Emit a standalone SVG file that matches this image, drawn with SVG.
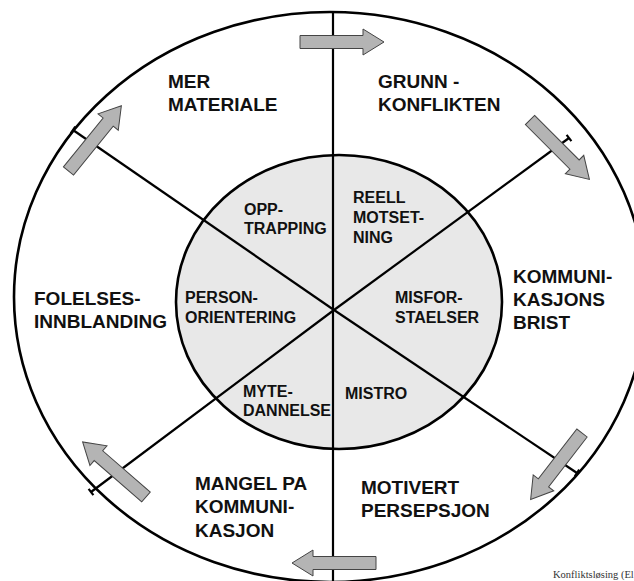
<svg xmlns="http://www.w3.org/2000/svg" width="634" height="581" viewBox="0 0 634 581">
<style>
.ring{fill:none;stroke:#000;stroke-width:2.6}
.core{fill:#e8e8e8;stroke:#000;stroke-width:2.6}
.spoke{stroke:#000;stroke-width:2.2;fill:none}
.arr{fill:#b4b4b4;stroke:#444;stroke-width:1}
.o{font-family:"Liberation Sans",Arial,sans-serif;font-weight:bold;font-size:19px;fill:#111}
.i{font-family:"Liberation Sans",Arial,sans-serif;font-weight:bold;font-size:16px;fill:#111}
.c{font-family:"Liberation Serif","Times New Roman",serif;font-size:10.5px;fill:#333}
</style>
<defs>
<path id="arrow" d="M0,-6.5 H63 V-13 L84,0 L63,13 V6.5 H0 Z"/>
</defs>
<rect width="634" height="581" fill="#fff"/>
<g id="frame">
<ellipse class="core" cx="339" cy="302" rx="163" ry="147"/>
<ellipse class="ring" cx="330" cy="297" rx="316" ry="285"/>
</g>
<g id="connectors">
<line class="spoke" x1="333" y1="12" x2="333" y2="581"/>
<line class="spoke" x1="334" y1="310" x2="73" y2="130"/>
<line class="spoke" x1="334" y1="310" x2="569" y2="138"/>
<line class="spoke" x1="334" y1="310" x2="91" y2="492"/>
<line class="spoke" x1="334" y1="310" x2="577" y2="473"/>
<line class="spoke" x1="75.3" y1="126.7" x2="70.7" y2="133.3"/>
<line class="spoke" x1="566.6" y1="134.8" x2="571.4" y2="141.2"/>
<line class="spoke" x1="88.6" y1="488.8" x2="93.4" y2="495.2"/>
<line class="spoke" x1="579.2" y1="469.7" x2="574.8" y2="476.3"/>
<use href="#arrow" class="arr" transform="translate(300,42)"/>
<use href="#arrow" class="arr" transform="translate(530,120) rotate(45)"/>
<use href="#arrow" class="arr" transform="translate(582,433) rotate(127.7)"/>
<use href="#arrow" class="arr" transform="translate(376,563) rotate(180)"/>
<use href="#arrow" class="arr" transform="translate(146,497) rotate(-139)"/>
<use href="#arrow" class="arr" transform="translate(68.5,171) rotate(-51)"/>
</g>
<g id="mer-materiale"><text class="o" x="168" y="88">MER</text><text class="o" x="168" y="111">MATERIALE</text></g>
<g id="grunnkonflikten"><text class="o" x="378" y="88">GRUNN -</text><text class="o" x="378" y="111">KONFLIKTEN</text></g>
<g id="kommunikasjonsbrist"><text class="o" x="513" y="283">KOMMUNI-</text><text class="o" x="513" y="306">KASJONS</text><text class="o" x="513" y="329">BRIST</text></g>
<g id="motivert-persepsjon"><text class="o" x="361" y="494">MOTIVERT</text><text class="o" x="361" y="517">PERSEPSJON</text></g>
<g id="mangel-pa-kommunikasjon"><text class="o" x="195" y="490">MANGEL PA</text><text class="o" x="195" y="513">KOMMUNI-</text><text class="o" x="195" y="537">KASJON</text></g>
<g id="folelsesinnblanding"><text class="o" x="34" y="305">FOLELSES-</text><text class="o" x="34" y="328">INNBLANDING</text></g>
<g id="opptrapping"><text class="i" x="244" y="215">OPP-</text><text class="i" x="244" y="234">TRAPPING</text></g>
<g id="reell-motsetning"><text class="i" x="353" y="203">REELL</text><text class="i" x="353" y="223">MOTSET-</text><text class="i" x="353" y="243">NING</text></g>
<g id="misforstaelser"><text class="i" x="395" y="303">MISFOR-</text><text class="i" x="395" y="323">STAELSER</text></g>
<g id="mistro"><text class="i" x="345" y="399">MISTRO</text></g>
<g id="mytedannelse"><text class="i" x="243" y="397">MYTE-</text><text class="i" x="243" y="416">DANNELSE</text></g>
<g id="personorientering"><text class="i" x="185" y="303">PERSON-</text><text class="i" x="185" y="323">ORIENTERING</text></g>
<text class="c" x="553" y="578">Konfliktsløsing (El</text>
</svg>
